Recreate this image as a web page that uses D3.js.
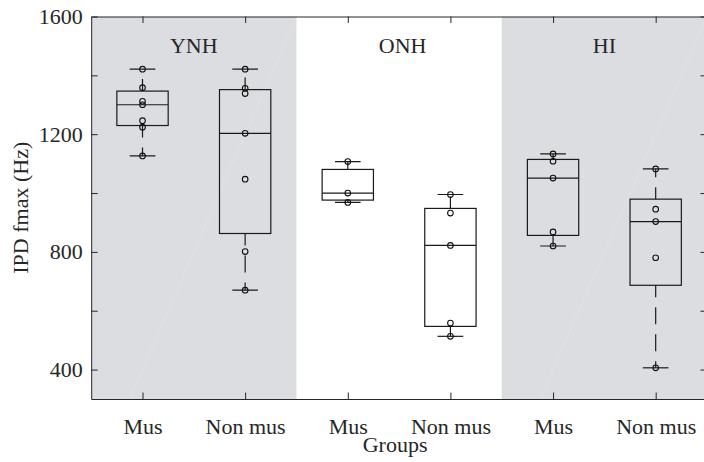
<!DOCTYPE html>
<html>
<head>
<meta charset="utf-8">
<script src="https://cdn.jsdelivr.net/npm/d3@7"></script>
<style>
  html, body { margin: 0; padding: 0; background: #fff; }
  svg { display: block; }
</style>
</head>
<body>
<div id="chart"></div>
<script>
// Groups shown as shaded bands at the top
const groups = ['YNH', 'ONH', 'HI'];
const groupPos = [1.5, 3.535, 5.5];
const shadedSpans = [[0.5, 2.5], [4.5, 6.5]];

// Categories along x
const categories = ['Mus', 'Non mus', 'Mus', 'Non mus', 'Mus', 'Non mus'];

// Individual points per box (Hz)
const ynhMus    = [1421, 1358, 1312, 1300, 1246, 1224, 1126];
const ynhNonMus = [1421, 1356, 1338, 1203, 1047, 801, 670];
const onhMus    = [1107, 1000, 968];
const onhNonMus = [995, 932, 822, 558, 513];
const hiMus     = [1133, 1108, 1051, 868, 820];
const hiNonMus  = [1082, 945, 903, 780, 406];

const yTicks = [400, 600, 800, 1000, 1200, 1400, 1600];
const yLabelled = [400, 800, 1200, 1600];

const series = [ynhMus, ynhNonMus, onhMus, onhNonMus, hiMus, hiNonMus];

const W = 704, H = 462;
const margin = { left: 91.2, right: 707, top: 16.5, bottom: 399 };
const font = "'Liberation Serif', Tinos, 'Nimbus Roman', 'Nimbus Roman No9 L', 'Times New Roman', Times, serif";
const ink = '#262626';

// MATLAB style percentile
function prctile(vals, p) {
    const s = vals.slice().sort((a, b) => a - b);
    const n = s.length;
    const pos = n * p / 100 + 0.5;
    if (pos <= 1) return s[0];
    if (pos >= n) return s[n - 1];
    const i = Math.floor(pos);
    return s[i - 1] + (pos - i) * (s[i] - s[i - 1]);
}

const x = d3.scaleLinear().domain([0.5, 6.5]).range([margin.left, margin.right]);
const y = d3.scaleLinear().domain([300, 1600]).range([margin.bottom, margin.top]);

const svg = d3.select('#chart').append('svg')
    .attr('width', W)
    .attr('height', H)
    .style('font-family', font);

svg.append('defs').append('clipPath')
    .attr('id', 'plot-clip')
    .append('rect')
    .attr('x', margin.left)
    .attr('y', margin.top)
    .attr('width', margin.right - margin.left)
    .attr('height', margin.bottom - margin.top);

const plot = svg.append('g').attr('clip-path', 'url(#plot-clip)');

// shaded group bands
plot.selectAll('.band')
    .data(shadedSpans)
    .enter()
    .append('rect')
    .attr('class', 'band')
    .attr('x', d => x(d[0]))
    .attr('y', y(1600))
    .attr('width', d => x(d[1]) - x(d[0]))
    .attr('height', y(0) - y(1600))
    .attr('fill', '#dcdde0');

// faint diagonal seam of the band patches
plot.selectAll('.seam')
    .data(shadedSpans)
    .enter()
    .append('line')
    .attr('x1', d => x(d[0]))
    .attr('y1', y(0))
    .attr('x2', d => x(d[1]))
    .attr('y2', y(1600))
    .attr('stroke', '#e6e6e8')
    .attr('stroke-width', 0.6);

// group labels
svg.selectAll('.group-label')
    .data(groups)
    .enter()
    .append('text')
    .attr('x', (d, i) => x(groupPos[i]))
    .attr('y', y(1500) + 7.5)
    .attr('text-anchor', 'middle')
    .style('font-family', font)
    .style('font-size', '22px')
    .style('fill', ink)
    .text(d => d);

// boxes
const boxW = 0.5;
const capW = 0.25;
const lineCol = '#1a1a1a';

series.forEach((vals, i) => {
    const pos = i + 1;
    const q1 = prctile(vals, 25);
    const med = prctile(vals, 50);
    const q3 = prctile(vals, 75);
    const iqr = q3 - q1;
    const hiAdj = d3.max(vals.filter(v => v <= q3 + 1.5 * iqr));
    const loAdj = d3.min(vals.filter(v => v >= q1 - 1.5 * iqr));
    const g = plot.append('g');

    // whiskers (dashed), drawn from box edge outward
    [[q3, hiAdj], [q1, loAdj]].forEach(w => {
        g.append('line')
            .attr('x1', x(pos)).attr('x2', x(pos))
            .attr('y1', y(w[0])).attr('y2', y(w[1]))
            .attr('stroke', lineCol)
            .attr('stroke-width', 1.2)
            .attr('stroke-dasharray', '17,10')
            .attr('stroke-dashoffset', 5);
        g.append('line')
            .attr('x1', x(pos - capW / 2)).attr('x2', x(pos + capW / 2))
            .attr('y1', y(w[1])).attr('y2', y(w[1]))
            .attr('stroke', lineCol)
            .attr('stroke-width', 1.2);
    });

    g.append('rect')
        .attr('x', x(pos - boxW / 2))
        .attr('y', y(q3))
        .attr('width', x(pos + boxW / 2) - x(pos - boxW / 2))
        .attr('height', y(q1) - y(q3))
        .attr('fill', 'none')
        .attr('stroke', lineCol)
        .attr('stroke-width', 1.2);

    g.append('line')
        .attr('x1', x(pos - boxW / 2)).attr('x2', x(pos + boxW / 2))
        .attr('y1', y(med)).attr('y2', y(med))
        .attr('stroke', lineCol)
        .attr('stroke-width', 1.2);

    g.selectAll('circle')
        .data(vals)
        .enter()
        .append('circle')
        .attr('cx', x(pos))
        .attr('cy', d => y(d))
        .attr('r', 2.8)
        .attr('fill', 'none')
        .attr('stroke', '#111')
        .attr('stroke-width', 1.1);
});

// axes
const tick = -6.5;
function styleAxis(sel) {
    sel.attr('font-family', null);
    sel.select('.domain').attr('stroke', ink).attr('stroke-width', 1);
    sel.selectAll('.tick line').attr('stroke', ink).attr('stroke-width', 1);
    sel.selectAll('.tick text')
        .style('font-family', font)
        .style('font-size', '22px')
        .attr('fill', ink);
}

svg.append('g')
    .attr('transform', `translate(${margin.left},0)`)
    .call(d3.axisLeft(y).tickValues(yTicks).tickSize(tick).tickSizeOuter(0).tickPadding(8.5)
        .tickFormat(d => yLabelled.includes(d) ? d : ''))
    .call(styleAxis);

svg.append('g')
    .attr('transform', `translate(${margin.right},0)`)
    .call(d3.axisRight(y).tickValues(yTicks).tickSize(tick).tickSizeOuter(0).tickFormat(''))
    .call(styleAxis);

svg.append('g')
    .attr('transform', `translate(0,${margin.top})`)
    .call(d3.axisTop(x).tickValues(d3.range(1, 7)).tickSize(tick).tickSizeOuter(0).tickFormat(''))
    .call(styleAxis);

const xAxis = svg.append('g')
    .attr('transform', `translate(0,${margin.bottom})`)
    .call(d3.axisBottom(x).tickValues(d3.range(1, 7)).tickSize(tick).tickSizeOuter(0)
        .tickFormat(d => categories[d - 1]))
    .call(styleAxis);
xAxis.selectAll('.tick text').attr('y', 35).attr('dy', null);

// axis titles
svg.append('text')
    .attr('x', (margin.left + margin.right) / 2 - 4)
    .attr('y', 452)
    .attr('text-anchor', 'middle')
    .style('font-family', font)
    .style('font-size', '22px')
    .style('fill', ink)
    .text('Groups');

svg.append('text')
    .attr('transform', `translate(28,${(margin.top + margin.bottom) / 2}) rotate(-90)`)
    .attr('text-anchor', 'middle')
    .style('font-family', font)
    .style('font-size', '22px')
    .style('fill', ink)
    .text('IPD fmax (Hz)');
</script>
</body>
</html>
